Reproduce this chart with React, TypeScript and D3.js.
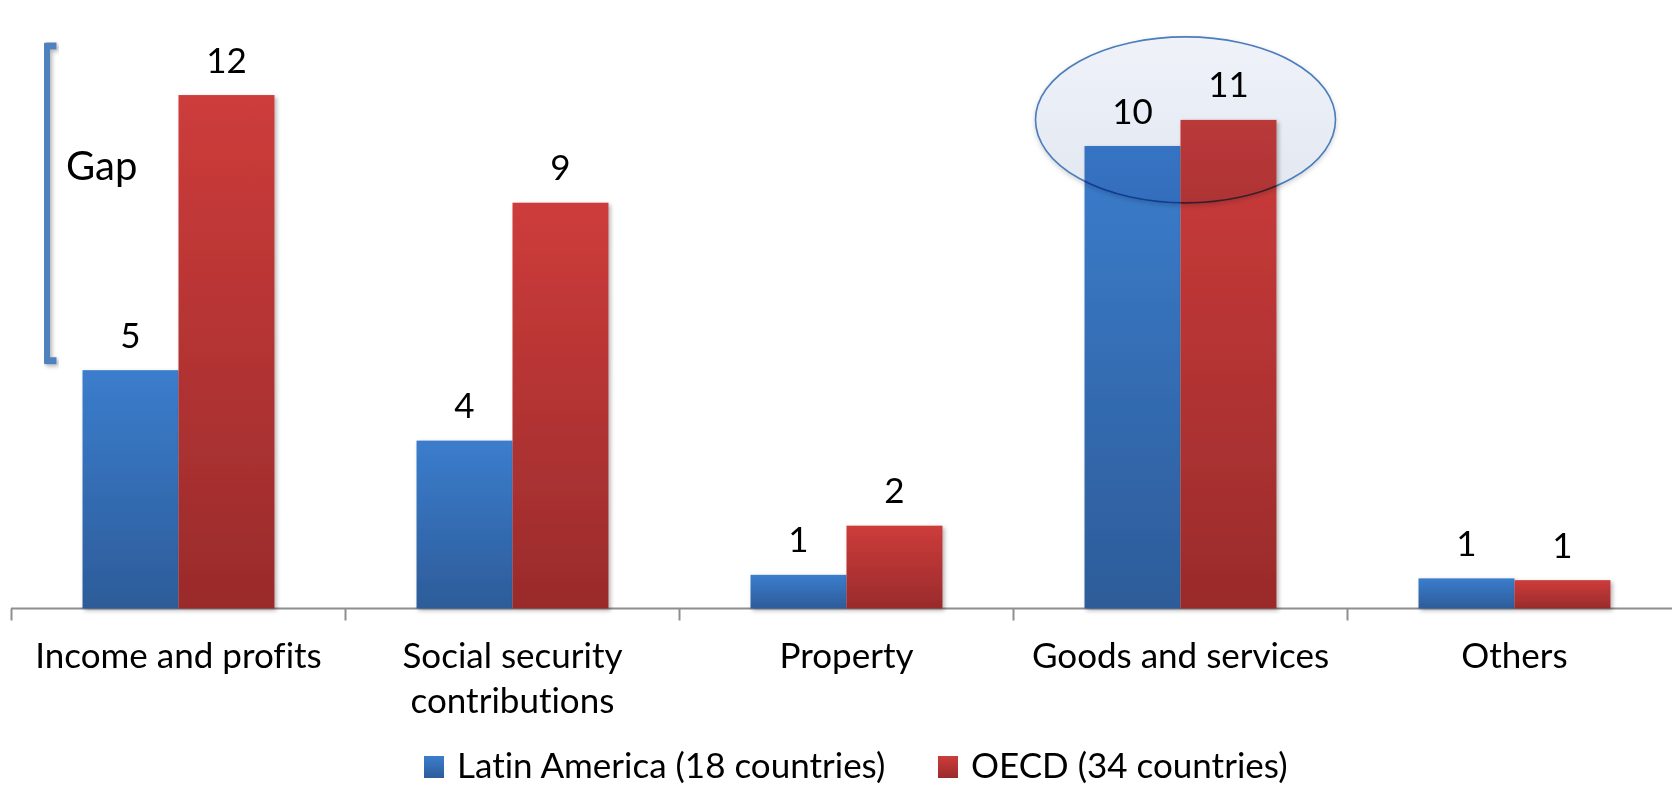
import React from "react";
import * as d3 from "d3";

const categories = ["Income and profits", "Social security contributions", "Property", "Goods and services", "Others"];
const categoryLines = [["Income and profits"], ["Social security", "contributions"], ["Property"], ["Goods and services"], ["Others"]];
const seriesNames = ["Latin America (18 countries)", "OECD (34 countries)"];
const latinAmerica = [5.38, 3.79, 0.76, 10.44, 0.68];
const oecd = [11.59, 9.16, 1.87, 11.03, 0.64];
const gapRange = [5.59, 12.7];
const gapLabel = "Gap";

const W = 1672;
const H = 787;
const FONT = "Lato, 'Open Sans', sans-serif";
const FS = 35;
const textStyle = { fontVariantLigatures: "none" as const, fontFeatureSettings: "'liga' 0, 'clig' 0" };

export default function App() {
  const x = d3.scaleBand<string>().domain(categories).range([11.5, 1681.5]).paddingInner(0).paddingOuter(0);
  const inner = d3.scaleBand<string>().domain(seriesNames).range([0, x.bandwidth()]).paddingInner(0).paddingOuter(0.74);
  const y = d3.scaleLinear().domain([0, 13]).range([608.5, 608.5 - 13 * 44.3]);
  const fmt = d3.format(".0f");
  const series = [latinAmerica, oecd];
  const gradIds = ["gBlue", "gRed"];
  const baseY = y(0);
  const ticks = categories.map((c) => x(c) as number);
  const goodsIdx = 3;
  const ellCx = (x(categories[goodsIdx]) as number) + x.bandwidth() / 2 + 5;
  const ellCy = y(oecd[goodsIdx]);
  const bracketX = 46.5;
  const yTop = y(gapRange[1]);
  const yBot = y(gapRange[0]);

  return (
    <svg width={W} height={H} style={{ position: "absolute", left: 0, top: 0, display: "block", background: "#fff" }}>
      <defs>
        <linearGradient id="gBlue" x1="0" y1="0" x2="0" y2="1">
          <stop offset="0" stopColor="#3b7dcd" />
          <stop offset="1" stopColor="#2d5c99" />
        </linearGradient>
        <linearGradient id="gRed" x1="0" y1="0" x2="0" y2="1">
          <stop offset="0" stopColor="#cd3c3b" />
          <stop offset="1" stopColor="#9a2b2b" />
        </linearGradient>
        <linearGradient id="gEll" x1="0" y1="0" x2="0" y2="1">
          <stop offset="0" stopColor="#eff2f9" />
          <stop offset="1" stopColor="#e2e7f0" />
        </linearGradient>
        <filter id="shadow" x="-20%" y="-20%" width="140%" height="140%">
          <feDropShadow dx="2" dy="2" stdDeviation="2" floodColor="#000" floodOpacity="0.3" />
        </filter>
        <filter id="ellShadow" x="-20%" y="-20%" width="140%" height="150%">
          <feDropShadow dx="0" dy="2" stdDeviation="2.5" floodColor="#000" floodOpacity="0.18" />
        </filter>
      </defs>

      {/* axis */}
      <line x1={11} x2={W} y1={baseY} y2={baseY} stroke="#8e8e8e" strokeWidth={2} />
      {ticks.map((t, i) => (
        <line key={i} x1={t} x2={t} y1={baseY} y2={baseY + 12} stroke="#8e8e8e" strokeWidth={2} />
      ))}

      {/* bars */}
      {series.map((vals, si) =>
        vals.map((v, ci) => {
          const bx = (x(categories[ci]) as number) + (inner(seriesNames[si]) as number);
          return (
            <rect
              key={`${si}-${ci}`}
              x={bx}
              y={y(v)}
              width={inner.bandwidth()}
              height={baseY - y(v)}
              fill={`url(#${gradIds[si]})`}
              filter="url(#shadow)"
            />
          );
        })
      )}

      {/* value labels */}
      {series.map((vals, si) =>
        vals.map((v, ci) => {
          const cx = (x(categories[ci]) as number) + (inner(seriesNames[si]) as number) + inner.bandwidth() / 2;
          return (
            <text key={`l${si}-${ci}`} x={cx} y={y(v) - 22.5} textAnchor="middle" fontFamily={FONT} fontSize={FS} fill="#000">
              {fmt(v)}
            </text>
          );
        })
      )}

      {/* category labels */}
      {categoryLines.map((lines, ci) => (
        <text key={`c${ci}`} textAnchor="middle" fontFamily={FONT} fontSize={FS} fill="#000" style={textStyle}>
          {lines.map((ln, li) => (
            <tspan key={li} x={(x(categories[ci]) as number) + x.bandwidth() / 2} y={668 + li * 45}>
              {ln}
            </tspan>
          ))}
        </text>
      ))}

      {/* ellipse annotation */}
      <g style={{ mixBlendMode: "multiply" }} filter="url(#ellShadow)">
        <ellipse cx={ellCx} cy={ellCy} rx={150} ry={83} fill="url(#gEll)" stroke="#4a7dbb" strokeWidth={1.6} />
      </g>

      {/* gap bracket */}
      <path
        d={`M ${bracketX + 10} ${yTop} L ${bracketX} ${yTop} L ${bracketX} ${yBot} L ${bracketX + 10} ${yBot}`}
        fill="none"
        stroke="#4f81bd"
        strokeWidth={7}
        strokeLinejoin="round"
        strokeLinecap="butt"
        filter="url(#shadow)"
      />
      <text x={66} y={179.5} fontFamily={FONT} fontSize={40} fill="#000">
        {gapLabel}
      </text>

      {/* legend */}
      {seriesNames.map((s, i) => {
        const lx = [424, 938][i];
        return (
          <g key={s}>
            <rect x={lx} y={756} width={20} height={22} fill={`url(#${gradIds[i]})`} />
            <text x={lx + 33} y={778} fontFamily={FONT} fontSize={FS} fill="#000" style={textStyle}>
              {s}
            </text>
          </g>
        );
      })}
    </svg>
  );
}
